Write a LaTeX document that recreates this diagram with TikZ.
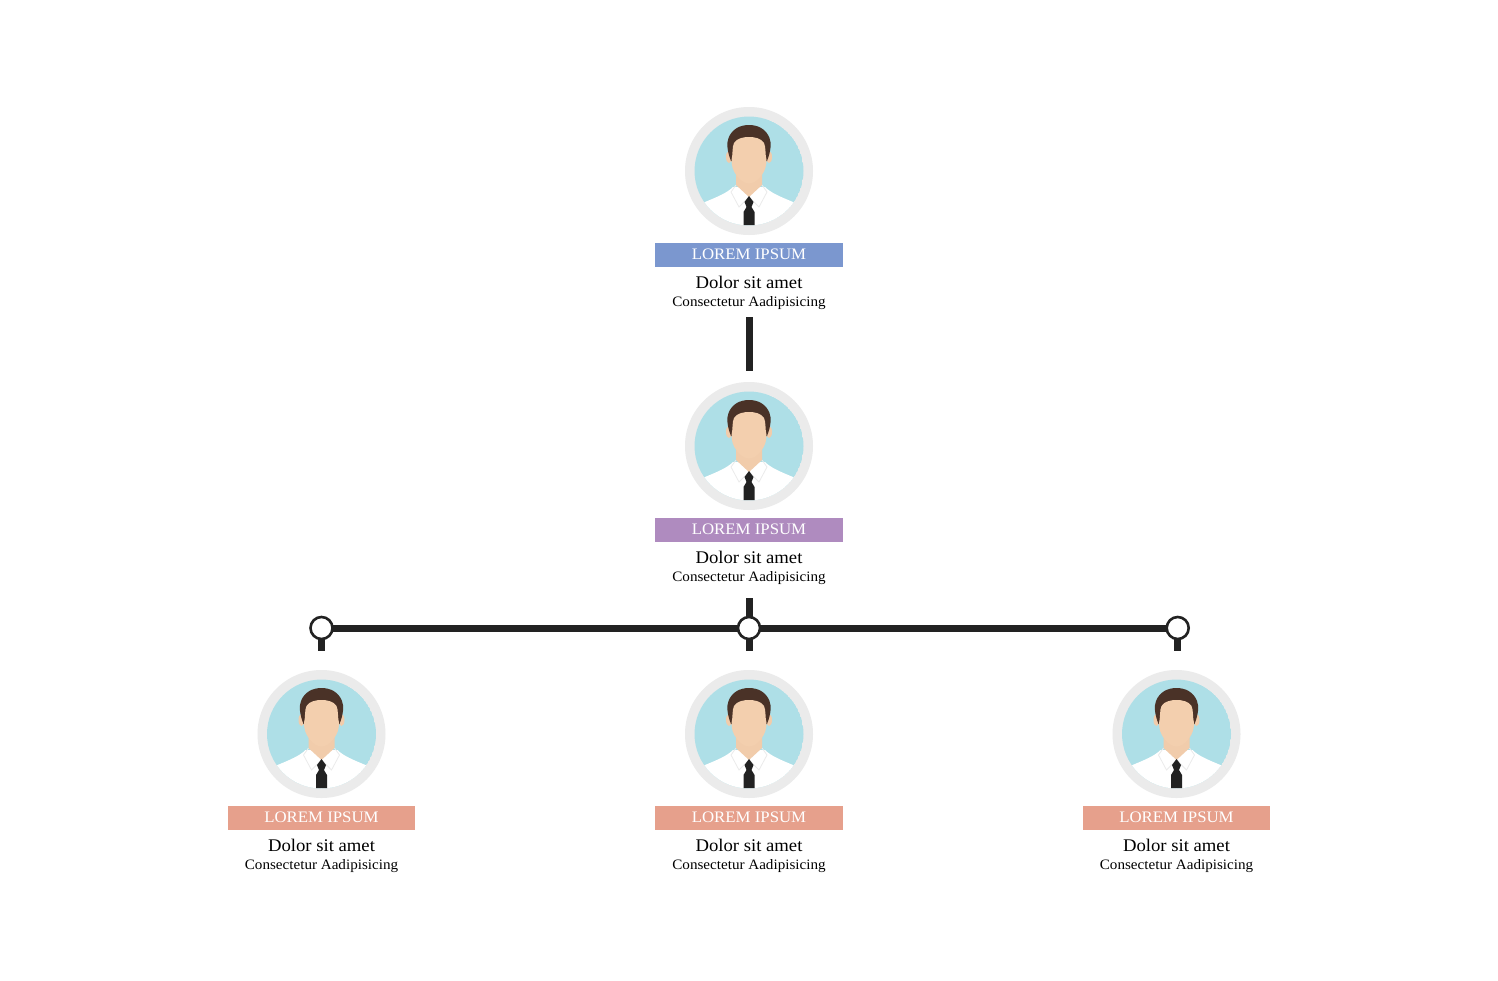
\documentclass[tikz,border=0pt]{standalone}
\usepackage{fontspec}
\setmainfont[FakeStretch=1.05]{Liberation Serif}
\definecolor{ringc}{HTML}{EBEBEB}
\definecolor{skyc}{HTML}{AEDFE7}
\definecolor{skinc}{HTML}{F3CFAE}
\definecolor{neckc}{HTML}{F1CCAB}
\definecolor{hairc}{HTML}{4A3227}
\definecolor{inkc}{HTML}{222222}
\definecolor{bluec}{HTML}{7B97CF}
\definecolor{purplec}{HTML}{AF8BBF}
\definecolor{salmonc}{HTML}{E6A08C}
\tikzset{
  x=1pt,y=-1pt,
  barlabel/.style={fill=#1,minimum width=187.5pt,minimum height=24pt,inner sep=0pt,text=white,font=\fontsize{16}{18}\selectfont},
  nametext/.style={inner sep=0pt,font=\fontsize{17.8}{19}\selectfont,text=black},
  roletext/.style={inner sep=0pt,font=\fontsize{14.4}{16}\selectfont,text=black},
  link/.style={draw=inkc,line width=7pt},
  joint/.style={circle,draw=inkc,fill=white,line width=2.6pt,minimum size=22pt,inner sep=0pt,outer sep=0pt},
  avatar/.pic={
    \fill[ringc] (0,0) circle[radius=64];
    \begin{scope}
      \clip (0,0) circle[radius=54.5];
      \fill[skyc] (0,0) circle[radius=54.5];
      % shirt
      \fill[white] (-60,37) -- (-44,31) .. controls (-32,26) and (-22,22) .. (-16,16) -- (16,16) .. controls (22,22) and (32,26) .. (44,31) -- (60,37) -- (60,60) -- (-60,60) -- cycle;
      % neck
      \fill[neckc] (-13,2) -- (13,2) -- (13,14) -- (0,26) -- (-13,14) -- cycle;
      % collar lines
      \draw[ringc,line width=.8pt] (-13,14) -- (-18,21) -- (-10,36) -- (0,26) -- (10,36) -- (18,21) -- (13,14);
      % tie
      \fill[inkc] (0,25) -- (4.5,31) -- (2.5,36) -- (5.5,41) -- (5.5,54) -- (-5.5,54) -- (-5.5,41) -- (-2.5,36) -- (-4.5,31) -- cycle;
    \end{scope}
    % ears
    \fill[neckc] (-20,-14) ellipse[x radius=3,y radius=6];
    \fill[neckc] (20,-14) ellipse[x radius=3,y radius=6];
    % hair
    \fill[hairc] (-18,-10) .. controls (-22,-20) and (-22.5,-28) .. (-20.5,-33) .. controls (-17,-42) and (-9,-46) .. (0,-46) .. controls (9,-46) and (17,-42) .. (20.5,-33) .. controls (22.5,-28) and (22,-20) .. (18,-10) -- cycle;
    % face
    \fill[skinc] (-17.5,-11) .. controls (-16,-17) and (-17,-24) .. (-15,-28) .. controls (-12,-33) and (-5,-34) .. (0,-34) .. controls (5,-34) and (12,-33) .. (15,-28) .. controls (17,-24) and (16,-17) .. (17.5,-11) .. controls (17.5,-5) and (16,0) .. (12,5) .. controls (8,10) and (4,12.5) .. (0,12.5) .. controls (-4,12.5) and (-8,10) .. (-12,5) .. controls (-16,0) and (-17.5,-5) .. (-17.5,-11) -- cycle;
  }
}
\newcommand{\staff}[5]{%
  \pic at (#2,#3) {avatar};
  \node[barlabel=#4] (#1bar) at (#2,#3+83.7) {\raisebox{-0.8pt}{LOREM IPSUM}};
  \node[nametext] (#1name) at (#2,#3+111.7) {Dolor sit amet};
  \node[roletext] (#1role) at (#2,#3+132) {Consectetur Aadipisicing};
}
\begin{document}
\begin{tikzpicture}
\useasboundingbox (0,0) rectangle (1498,980);
\fill[white] (0,0) rectangle (1498,980);
\staff{top}{749}{171}{bluec}{}
\staff{mid}{749}{446}{purplec}{}
\staff{left}{321.5}{734}{salmonc}{}
\staff{centre}{749}{734}{salmonc}{}
\staff{right}{1176.5}{734}{salmonc}{}
% connectors
\coordinate (a1) at (749,317);
\coordinate (a2) at (749,371);
\draw[link] (a1) -- (a2);
\coordinate (b0) at (749,598);
\coordinate (bl) at (321.5,650.5);
\coordinate (bc) at (749,650.5);
\coordinate (br) at (1177,650.5);
\node[joint] (jl) at (321.5,628) {};
\node[joint] (jc) at (749,628) {};
\node[joint] (jr) at (1177.7,628) {};
\draw[link] (b0) -- (jc.north);
\draw[link] (jc.south) -- (bc);
\draw[link] (jl.south) -- (bl);
\draw[link] (br |- jr.south) -- (br);
\draw[link] (jl.east) -- (jc.west);
\draw[link] (jc.east) -- (jr.west);
\end{tikzpicture}
\end{document}
